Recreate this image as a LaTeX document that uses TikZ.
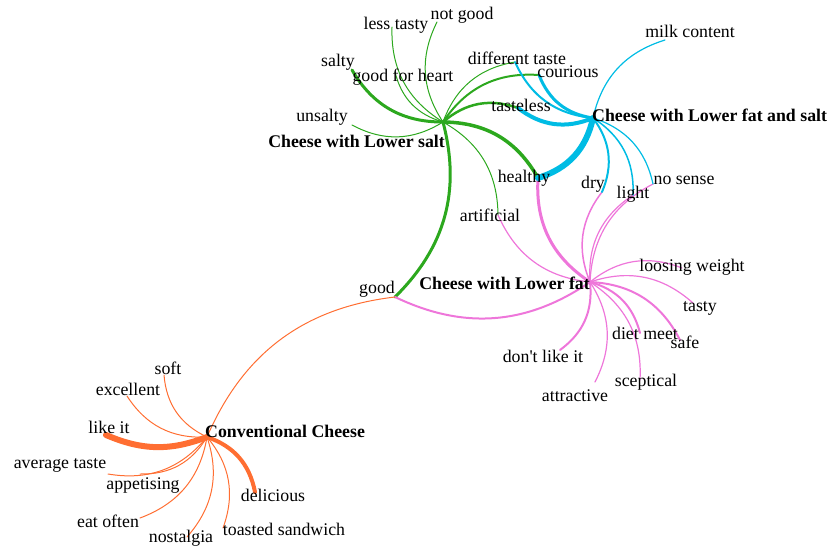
\documentclass[tikz,border=0pt]{standalone}
\usepackage{fontspec}
\setmainfont{Liberation Serif}
\definecolor{cgreen}{RGB}{44,168,30}
\definecolor{ccyan}{RGB}{0,188,228}
\definecolor{cpink}{RGB}{238,118,218}
\definecolor{corange}{RGB}{255,110,50}
\tikzset{
  lbl/.style={inner sep=0pt, font=\fontsize{17.8}{20}\selectfont, text height=12.5pt, text depth=4pt},
  hublbl/.style={lbl, font=\fontsize{17.8}{20}\selectfont\bfseries},
  bl/.style={bend left=30},
  ge/.style={draw=cgreen, line cap=round},
  ce/.style={draw=ccyan, line cap=round},
  pe/.style={draw=cpink, line cap=round},
  oe/.style={draw=corange, line cap=round},
}
\begin{document}
\begin{tikzpicture}[x=1pt,y=-1pt]
\useasboundingbox (0,0) rectangle (829,546);
% hubs
\coordinate (gh) at (443,122);
\coordinate (ch) at (593,118);
\coordinate (ph) at (590,282);
\coordinate (oh) at (207,437);
% leaves
\coordinate (salty) at (352,70);
\coordinate (gfh) at (395,72);
\coordinate (lesstasty) at (392,27);
\coordinate (notgood) at (437,22);
\coordinate (unsalty) at (352,125);
\coordinate (difftaste) at (515,62);
\coordinate (courious) at (539,75);
\coordinate (tasteless) at (518,108);
\coordinate (healthy) at (538,178);
\coordinate (artificial) at (498,215);
\coordinate (good) at (395,297);
\coordinate (milk) at (665,40);
\coordinate (dry) at (602,192);
\coordinate (light) at (633,195);
\coordinate (nosense) at (653,184);
\coordinate (loosing) at (682,268);
\coordinate (tasty) at (693,303);
\coordinate (safe) at (680,340);
\coordinate (dietmeet) at (640,333);
\coordinate (sceptical) at (640,380);
\coordinate (attractive) at (595,382);
\coordinate (dontlike) at (560,350);
\coordinate (soft) at (164,375);
\coordinate (excellent) at (127,396);
\coordinate (likeit) at (106,435);
\coordinate (average) at (108,474);
\coordinate (appetising) at (140,474);
\coordinate (eatoften) at (140,518);
\coordinate (nostalgia) at (187,537);
\coordinate (toasted) at (223,528);
\coordinate (delicious) at (255,492);
% green edges
\draw[ge, line width=3] (gh) to[bl] (salty);
\draw[ge, line width=1] (gh) to[bl] (gfh);
\draw[ge, line width=1] (gh) to[bl] (lesstasty);
\draw[ge, line width=1] (gh) to[bl] (notgood);
\draw[ge, line width=1] (gh) to[bl] (unsalty);
\draw[ge, line width=1] (gh) to[bl] (difftaste);
\draw[ge, line width=2] (gh) to[bl] (courious);
\draw[ge, line width=2.5] (gh) to[bl] (tasteless);
\draw[ge, line width=3.5] (gh) to[bl] (healthy);
\draw[ge, line width=1] (gh) to[bl] (artificial);
\draw[ge, line width=3] (gh) to[bl] (good);
% pink edges
\draw[pe, line width=3] (ph) to[bl] (healthy);
\draw[pe, line width=1.5] (ph) to[bl] (dry);
\draw[pe, line width=1.2] (ph) to[bl] (light);
\draw[pe, line width=1.2] (ph) to[bl] (nosense);
\draw[pe, line width=1.2] (ph) to[bl] (artificial);
\draw[pe, line width=2] (ph) to[bl] (good);
\draw[pe, line width=1.2] (ph) to[bl] (loosing);
\draw[pe, line width=1.2] (ph) to[bl] (tasty);
\draw[pe, line width=2] (ph) to[bl] (safe);
\draw[pe, line width=2] (ph) to[bl] (dietmeet);
\draw[pe, line width=1.2] (ph) to[bl] (sceptical);
\draw[pe, line width=1.2] (ph) to[bl] (attractive);
\draw[pe, line width=2] (ph) to[bl] (dontlike);
% orange edges
\draw[oe, line width=1] (oh) to[bl] (good);
\draw[oe, line width=1] (oh) to[bl] (soft);
\draw[oe, line width=1] (oh) to[bl] (excellent);
\draw[oe, line width=6] (oh) to[bend left=22] (likeit);
\draw[oe, line width=1] (oh) to[bl] (average);
\draw[oe, line width=1] (oh) to[bl] (appetising);
\draw[oe, line width=1] (oh) to[bl] (eatoften);
\draw[oe, line width=1] (oh) to[bl] (nostalgia);
\draw[oe, line width=1] (oh) to[bl] (toasted);
\draw[oe, line width=4] (oh) to[bl] (delicious);
% cyan edges
\draw[ce, line width=1.2] (ch) to[bl] (milk);
\draw[ce, line width=2] (ch) to[bl] (difftaste);
\draw[ce, line width=3] (ch) to[bl] (courious);
\draw[ce, line width=4] (ch) to[bl] (tasteless);
\draw[ce, line width=6] (ch) to[bl] (healthy);
\draw[ce, line width=2] (ch) to[bl] (dry);
\draw[ce, line width=1.5] (ch) to[bl] (light);
\draw[ce, line width=1.2] (ch) to[bl] (nosense);
% hub labels
\node[hublbl, anchor=east] (t-gh) at (445,143) {Cheese with Lower salt};
\node[hublbl, anchor=west] (t-ch) at (592,117) {Cheese with Lower fat and salt};
\node[hublbl, anchor=east] (t-ph) at (590,285) {Cheese with Lower fat};
\node[hublbl, anchor=west] (t-oh) at (205,433) {Conventional Cheese};
% leaf labels
\node[lbl] (t-lesstasty) at (396,25) {less tasty};
\node[lbl] (t-notgood) at (462,15) {not good};
\node[lbl] (t-salty) at (338,62) {salty};
\node[lbl] (t-gfh) at (403,77) {good for heart};
\node[lbl] (t-difftaste) at (517,60) {different taste};
\node[lbl] (t-unsalty) at (322,117) {unsalty};
\node[lbl] (t-tasteless) at (521,107) {tasteless};
\node[lbl] (t-milk) at (690,33) {milk content};
\node[lbl] (t-courious) at (568,73) {courious};
\node[lbl] (t-healthy) at (524,178) {healthy};
\node[lbl] (t-dry) at (593,184) {dry};
\node[lbl] (t-light) at (633,194) {light};
\node[lbl] (t-nosense) at (684,180) {no sense};
\node[lbl] (t-artificial) at (490,217) {artificial};
\node[lbl] (t-loosing) at (692,267) {loosing weight};
\node[lbl] (t-tasty) at (700,307) {tasty};
\node[lbl] (t-dietmeet) at (645,335) {diet meet};
\node[lbl] (t-safe) at (685,344) {safe};
\node[lbl] (t-dontlike) at (543,358) {don\textquotesingle t like it};
\node[lbl] (t-sceptical) at (646,382) {sceptical};
\node[lbl] (t-attractive) at (575,397) {attractive};
\node[lbl] (t-good) at (377,289) {good};
\node[lbl] (t-soft) at (168,370) {soft};
\node[lbl] (t-excellent) at (128,391) {excellent};
\node[lbl] (t-likeit) at (109,429) {like it};
\node[lbl] (t-average) at (60,464) {average taste};
\node[lbl] (t-appetising) at (143,485) {appetising};
\node[lbl] (t-delicious) at (273,497) {delicious};
\node[lbl] (t-eatoften) at (108,523) {eat often};
\node[lbl] (t-nostalgia) at (181,538) {nostalgia};
\node[lbl] (t-toasted) at (284,531) {toasted sandwich};
\end{tikzpicture}
\end{document}
